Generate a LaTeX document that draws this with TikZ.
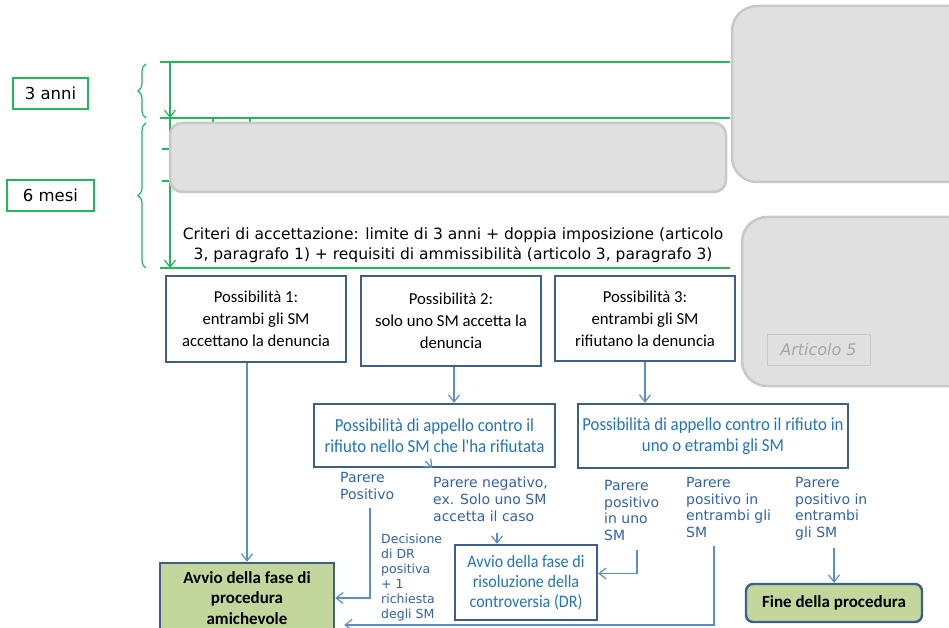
\documentclass[tikz,border=0pt]{standalone}
\usepackage{fontspec}
\setmainfont{DejaVu Sans}
\newfontfamily\calib{Carlito}
\newfontfamily\calibn[FakeStretch=0.92]{Carlito}
\usetikzlibrary{arrows.meta,decorations.pathreplacing}
\definecolor{boxblue}{HTML}{3E5F8A}
\definecolor{lineblue}{HTML}{5B8DC9}
\definecolor{txtblue}{HTML}{2273BB}
\definecolor{lblblue}{HTML}{2F62A8}
\definecolor{gline}{HTML}{1FB85A}
\definecolor{grayfill}{HTML}{E0E0E0}
\definecolor{graydraw}{HTML}{C8C8C8}
\definecolor{okgreen}{HTML}{C3D69B}

\begin{document}
\begin{tikzpicture}[x=1pt,y=-1pt,
    >={Straight Barb[length=7pt,width=11pt]},
    poss/.style={draw=boxblue,line width=2.4pt,align=center,inner sep=0pt,
      font=\calib\fontsize{16.7}{22}\selectfont},
    appeal/.style={poss,text=txtblue,font=\calibn\fontsize{18.3}{21}\selectfont},
    endbox/.style={poss,fill=okgreen,font=\calib\bfseries\fontsize{17}{20.5}\selectfont},
    lbl/.style={anchor=north west,align=left,inner sep=0pt,text=lblblue,
      font=\fontsize{14}{16.7}\selectfont},
    conn/.style={draw=lineblue,line width=1.2pt},
    gl/.style={draw=gline,line width=1.2pt},
    period/.style={draw=gline,line width=1.2pt,inner sep=0pt,font=\fontsize{16.5}{20}\selectfont},
    graybox/.style={fill=grayfill,draw=graydraw,line width=2.5pt}]
  \useasboundingbox (0,0) rectangle (949,628);
  \clip (0,0) rectangle (949,628);

  % green time scale
  \coordinate (t_0) at (170,62);
  \coordinate (t_1) at (170,118);
  \coordinate (t_2) at (170,268);
  \draw[gl] (160,62) -- (730,62);
  \draw[gl] (160,118) -- (730,118);
  \draw[gl] (160,268) -- (730,268);
  \draw[gl] (213,118) -- (213,125);
  \draw[gl] (250,118) -- (250,125);
  \draw[gl] (162,149) -- (170,149);
  \draw[gl] (162,181) -- (170,181);
  \draw[gl,->] (t_0) -- (t_1);
  \draw[gl,->] (t_1) -- (t_2);
  \draw[gl,decorate,decoration={brace,amplitude=8pt}] (146,118) -- (146,64);
  \draw[gl,decorate,decoration={brace,amplitude=8pt}] (146,268) -- (146,123);
  \node[period,minimum width=75pt,minimum height=31pt] (tre) at (50.5,93.5) {3 anni};
  \node[period,minimum width=87pt,minimum height=31pt] (sei) at (50.5,195.5) {6 mesi};

  % gray boxes
  \draw[graybox,rounded corners=12pt] (170,123) rectangle (726,192);
  \draw[graybox,rounded corners=25pt] (732,6) rectangle (990,182);
  \draw[graybox,rounded corners=25pt] (742,217) rectangle (990,386);
  \node[draw=graydraw,line width=1pt,text=gray!70,minimum width=103pt,minimum height=31pt,
    inner sep=0pt,font=\itshape\fontsize{16}{20}\selectfont] (art_5) at (818.5,349.5) {Articolo 5};

  \node[align=center,font=\fontsize{15.5}{19.5}\selectfont] (crit) at (453,245)
    {Criteri di accettazione: limite di 3 anni + doppia imposizione (articolo\\
     3, paragrafo 1) + requisiti di ammissibilità (articolo 3, paragrafo 3)};

  % possibilities
  \node[poss,minimum width=180pt,minimum height=86pt] (p_1) at (256,319)
    {Possibilità 1:\\entrambi gli SM\\accettano la denuncia};
  \node[poss,minimum width=180pt,minimum height=90pt] (p_2) at (451,321)
    {Possibilità 2:\\solo uno SM accetta la\\denuncia};
  \node[poss,minimum width=180pt,minimum height=85pt] (p_3) at (645,318.5)
    {Possibilità 3:\\entrambi gli SM\\rifiutano la denuncia};

  \node[appeal,minimum width=241pt,minimum height=63pt] (a_2) at (434.5,435.5)
    {Possibilità di appello contro il\\rifiuto nello SM che l'ha rifiutata};
  \node[appeal,minimum width=270pt,minimum height=64pt] (a_3) at (713,436)
    {Possibilità di appello contro il rifiuto in\\uno o etrambi gli SM};

  \node[appeal,font=\calibn\fontsize{17.5}{20}\selectfont,minimum width=142pt,minimum height=75pt] (dr) at (526,582.5)
    {Avvio della fase di\\risoluzione della\\controversia (DR)};
  \node[endbox,minimum width=174pt,minimum height=70pt] (amich) at (247,598)
    {Avvio della fase di\\procedura\\amichevole};
  \node[endbox,rounded corners=7pt,minimum width=176pt,minimum height=38pt] (fine) at (834,603)
    {Fine della procedura};

  % labels
  \node[lbl] (pos) at (340,472) {Parere\\Positivo};
  \node[lbl] (neg) at (433,477) {Parere negativo,\\ex. Solo uno SM\\accetta il caso};
  \node[lbl,font=\fontsize{12.5}{15}\selectfont] (dec) at (381,534)
    {Decisione\\di DR\\positiva\\+ 1\\richiesta\\degli SM};
  \node[lbl] (uno) at (604,480) {Parere\\positivo\\in uno\\SM};
  \node[lbl] (ent_1) at (686,477) {Parere\\positivo in\\entrambi gli\\SM};
  \node[lbl] (ent_2) at (795,477) {Parere\\positivo in\\entrambi\\gli SM};

  % connectors
  \draw[conn,->] (amich.north |- p_1.south) -- (amich);
  \draw[conn,->] ([xshift=3pt]p_2.south) -- ([xshift=3pt]p_2.south |- a_2.north);
  \draw[conn,->] (p_3.south) -- (p_3.south |- a_3.north);
  \draw[conn,->] ([xshift=-9pt,yshift=7pt]a_2.south) -- ([xshift=-2pt]a_2.south);
  \draw[conn,->] (370,508) |- (amich.east);
  \draw[conn,->] (497,533) -- (497,0 |- dr.north);
  \draw[conn,->] (637,550) |- ([yshift=9pt]dr.east);
  \draw[conn,->,shorten >=9pt] (714,546) |- ([yshift=-27pt]amich.east);
  \draw[conn,->] (834,548) -- (fine.north);
\end{tikzpicture}
\end{document}
